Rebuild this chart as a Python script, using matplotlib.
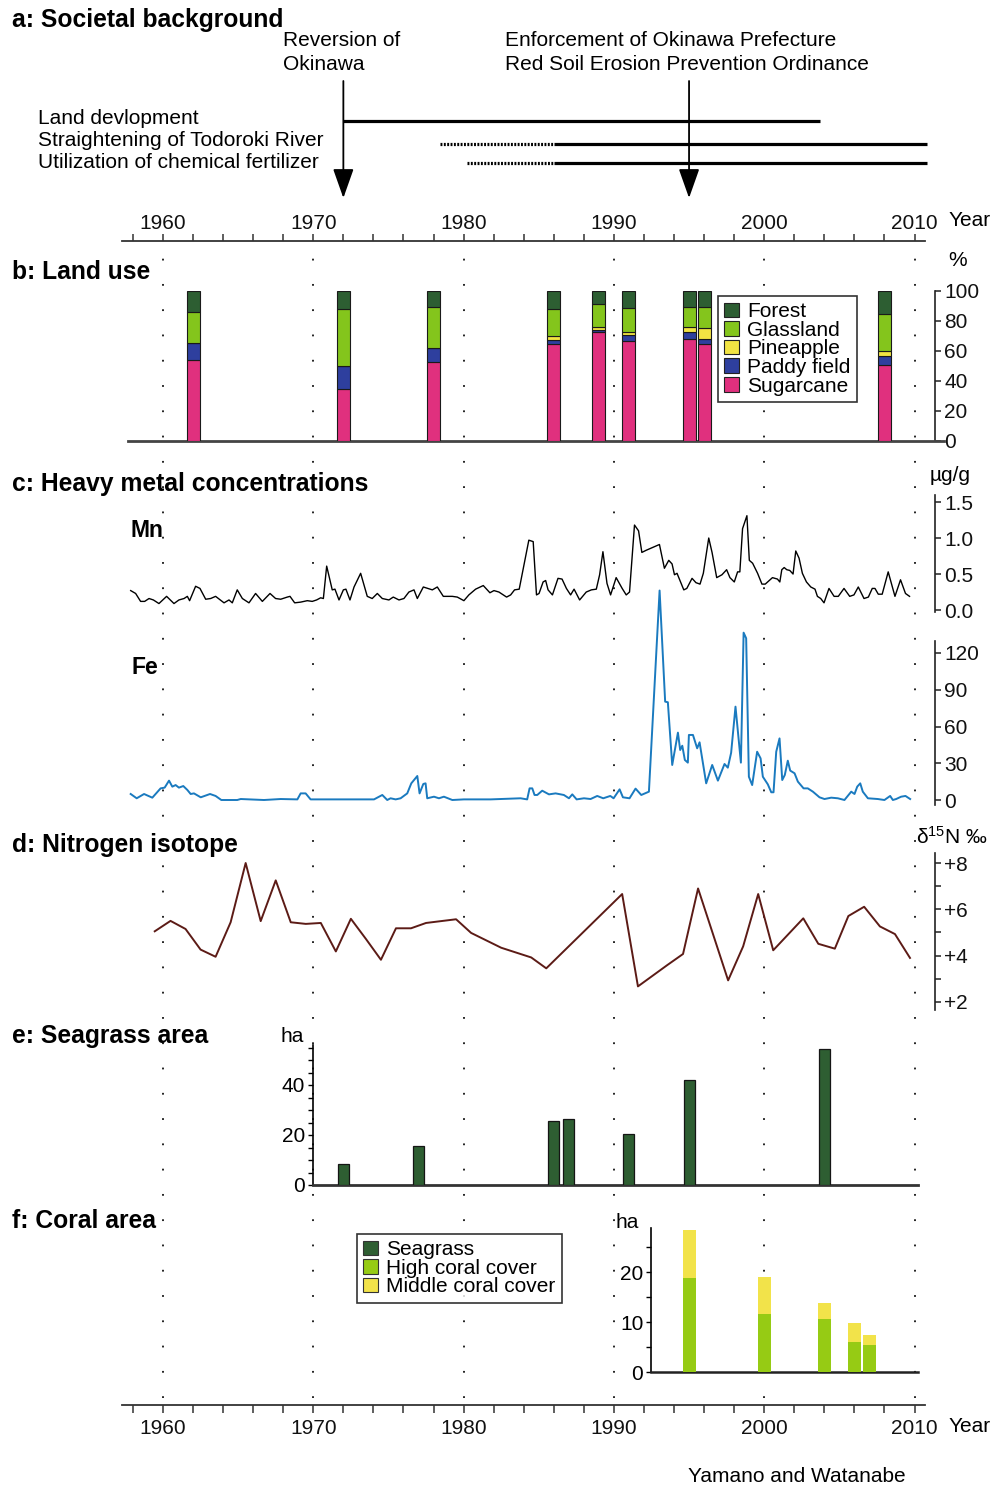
import numpy as np
import matplotlib
matplotlib.use('Agg')
import matplotlib.pyplot as plt
from matplotlib.patches import Patch
from matplotlib.ticker import FormatStrFormatter

plt.rcParams['font.family'] = ['Liberation Sans', 'DejaVu Sans']
plt.rcParams['mathtext.default'] = 'regular'

# ---------------- data ----------------
decades = [1960, 1970, 1980, 1990, 2000, 2010]

event_labels = [["Reversion of", "Okinawa"],
                ["Enforcement of Okinawa Prefecture", "Red Soil Erosion Prevention Ordinance"]]
event_years = [1972, 1995]

period_labels = ["Land devlopment", "Straightening of Todoroki River",
                 "Utilization of chemical fertilizer"]
period_dotted_start = [None, 1978.4, 1980.2]
period_solid_start = [1972, 1986, 1986]
period_end = [2003.7, 2010.8, 2010.8]

landuse_years = [1962, 1972, 1978, 1986, 1989, 1991, 1995, 1996, 2008]
landuse_cats = ["Forest", "Glassland", "Pineapple", "Paddy field", "Sugarcane"]
sugarcane = [54, 35, 52.5, 65, 72.5, 66.5, 68, 64.5, 51]
paddy = [11.5, 15, 9.5, 2.5, 1.5, 4, 5, 3.5, 6]
pineapple = [0, 0, 0, 2.5, 2, 2, 3, 7.5, 3]
glassland = [20.5, 38, 27.5, 18, 15.5, 16.5, 13.5, 14, 24.5]
forest = [14, 12, 10.5, 12, 8.5, 11, 10.5, 10.5, 15.5]

mn_years = [1957.85, 1958.18, 1958.51, 1958.78, 1959.07, 1959.36, 1959.73, 1960.24, 1960.73, 1961.06,
            1961.40, 1961.62, 1961.77, 1962.17, 1962.46, 1962.84, 1963.17, 1963.50, 1964.06, 1964.39,
            1964.61, 1964.94, 1965.28, 1965.72, 1966.16, 1966.61, 1967.12, 1967.49, 1967.83, 1968.27,
            1968.45, 1968.76, 1969.16, 1969.60, 1969.93, 1970.22, 1970.49, 1970.67, 1970.89, 1971.26,
            1971.44, 1971.71, 1972.00, 1972.17, 1972.44, 1972.71, 1973.15, 1973.41, 1973.59, 1973.92,
            1974.26, 1974.59, 1975.03, 1975.32, 1975.70, 1976.03, 1976.36, 1976.70, 1976.92, 1977.32,
            1977.76, 1977.92, 1978.25, 1978.65, 1979.25, 1979.58, 1980.02, 1980.35, 1980.80, 1981.31,
            1981.75, 1982.02, 1982.35, 1982.86, 1983.13, 1983.39, 1983.70, 1984.34, 1984.63, 1984.85,
            1985.02, 1985.29, 1985.46, 1985.62, 1985.91, 1986.28, 1986.55, 1986.84, 1987.12, 1987.35,
            1987.72, 1988.16, 1988.50, 1988.83, 1989.05, 1989.27, 1989.54, 1989.78, 1990.15, 1990.55,
            1990.82, 1991.04, 1991.37, 1991.64, 1991.86, 1992.15, 1992.59, 1993.03, 1993.36, 1993.65,
            1993.87, 1994.03, 1994.20, 1994.65, 1994.85, 1995.20, 1995.46, 1995.73, 1995.95, 1996.31,
            1996.53, 1996.84, 1997.19, 1997.50, 1997.72, 1998.01, 1998.23, 1998.38, 1998.56, 1998.85,
            1999.01, 1999.23, 1999.56, 1999.85, 2000.07, 2000.55, 2000.88, 2001.04, 2001.17, 2001.33,
            2001.50, 2001.70, 2001.92, 2002.10, 2002.32, 2002.54, 2002.81, 2003.10, 2003.38, 2003.54,
            2003.76, 2003.98, 2004.31, 2004.65, 2004.93, 2005.31, 2005.69, 2005.97, 2006.26, 2006.64,
            2006.93, 2007.19, 2007.37, 2007.59, 2007.85, 2008.25, 2008.70, 2009.07, 2009.40, 2009.67]
mn_values = [0.27, 0.23, 0.12, 0.12, 0.16, 0.14, 0.09, 0.19, 0.09, 0.14,
             0.16, 0.19, 0.13, 0.33, 0.30, 0.15, 0.16, 0.19, 0.10, 0.14,
             0.10, 0.28, 0.16, 0.10, 0.23, 0.12, 0.23, 0.16, 0.15, 0.18,
             0.19, 0.10, 0.11, 0.13, 0.12, 0.14, 0.17, 0.16, 0.61, 0.28,
             0.29, 0.14, 0.28, 0.29, 0.14, 0.32, 0.51, 0.32, 0.19, 0.16,
             0.23, 0.16, 0.14, 0.18, 0.14, 0.16, 0.25, 0.28, 0.16, 0.32,
             0.29, 0.28, 0.32, 0.19, 0.19, 0.18, 0.13, 0.21, 0.29, 0.34,
             0.24, 0.27, 0.25, 0.18, 0.21, 0.28, 0.29, 0.97, 0.95, 0.21,
             0.23, 0.39, 0.41, 0.28, 0.21, 0.44, 0.43, 0.30, 0.21, 0.29,
             0.14, 0.25, 0.28, 0.29, 0.49, 0.81, 0.37, 0.21, 0.45, 0.30,
             0.21, 0.25, 1.18, 1.10, 0.80, 0.83, 0.87, 0.91, 0.58, 0.69,
             0.64, 0.49, 0.51, 0.28, 0.30, 0.44, 0.38, 0.36, 0.51, 1.00,
             0.80, 0.45, 0.49, 0.56, 0.45, 0.39, 0.53, 0.53, 1.13, 1.31,
             0.69, 0.65, 0.51, 0.36, 0.36, 0.45, 0.43, 0.39, 0.56, 0.59,
             0.56, 0.55, 0.50, 0.82, 0.72, 0.51, 0.39, 0.32, 0.29, 0.19,
             0.16, 0.10, 0.30, 0.19, 0.19, 0.30, 0.19, 0.21, 0.32, 0.16,
             0.18, 0.30, 0.30, 0.22, 0.22, 0.53, 0.19, 0.42, 0.23, 0.19]

fe_years = [1957.85, 1958.25, 1958.74, 1959.29, 1959.84, 1960.11, 1960.40, 1960.62, 1960.84, 1961.06,
            1961.35, 1961.62, 1961.84, 1962.06, 1962.51, 1963.13, 1963.50, 1963.88, 1964.94, 1965.17,
            1966.72, 1967.83, 1968.94, 1969.16, 1969.49, 1969.82, 1970.71, 1971.82, 1974.04, 1974.59,
            1974.92, 1975.14, 1975.48, 1975.81, 1976.25, 1976.52, 1976.92, 1977.07, 1977.32, 1977.47,
            1977.58, 1978.03, 1978.36, 1978.69, 1979.25, 1980.02, 1981.80, 1983.79, 1984.23, 1984.39,
            1984.57, 1984.72, 1984.90, 1985.23, 1985.68, 1986.12, 1986.67, 1987.01, 1987.23, 1987.52,
            1988.01, 1988.45, 1988.89, 1989.29, 1989.76, 1989.98, 1990.38, 1990.60, 1991.04, 1991.44,
            1991.82, 1992.33, 1993.04, 1993.41, 1993.59, 1993.88, 1994.26, 1994.41, 1994.55, 1994.72,
            1994.92, 1994.99, 1995.26, 1995.54, 1995.70, 1996.14, 1996.54, 1996.92, 1997.36, 1997.58,
            1997.80, 1998.09, 1998.45, 1998.63, 1998.80, 1998.98, 1999.20, 1999.53, 1999.76, 1999.91,
            2000.24, 2000.47, 2000.62, 2000.80, 2001.02, 2001.20, 2001.37, 2001.57, 2001.73, 2002.02,
            2002.24, 2002.62, 2002.90, 2003.24, 2003.68, 2004.01, 2004.46, 2004.90, 2005.34, 2005.79,
            2006.01, 2006.19, 2006.39, 2006.56, 2006.90, 2007.56, 2008.00, 2008.38, 2008.56, 2008.78,
            2009.11, 2009.40, 2009.71]
fe_values = [4.9, 1.4, 4.9, 1.9, 9.5, 10.1, 15.8, 10.9, 12.2, 10.1,
             11.4, 8.2, 4.9, 5.4, 2.2, 4.9, 3.3, 0.0, 0.0, 0.8,
             0.0, 0.8, 0.5, 5.4, 5.4, 0.5, 0.5, 0.5, 0.5, 4.1,
             0.0, 1.4, 0.5, 1.4, 5.4, 13.6, 19.6, 5.4, 13.1, 13.6,
             1.4, 2.7, 1.4, 2.7, 0.0, 0.5, 0.5, 1.4, 0.5, 9.5,
             9.5, 4.1, 4.1, 7.6, 4.6, 5.4, 4.1, 1.4, 4.6, 0.5,
             1.4, 0.8, 3.3, 1.4, 3.3, 1.4, 8.7, 2.2, 1.4, 9.3,
             4.1, 6.8, 171.0, 80.3, 79.8, 28.6, 55.0, 40.8, 44.3, 32.7,
             30.5, 53.1, 53.1, 42.2, 47.1, 13.6, 28.6, 15.8, 29.4, 26.4,
             38.6, 76.2, 30.5, 136.6, 132.0, 19.0, 12.2, 39.4, 34.0, 19.0,
             12.8, 6.3, 6.3, 39.4, 50.3, 16.3, 20.4, 32.1, 24.0, 21.8,
             15.0, 9.5, 9.5, 6.8, 2.2, 0.8, 1.9, 1.4, 0.0, 6.8,
             4.9, 10.9, 13.6, 6.8, 1.4, 0.8, 0.0, 3.3, 0.0, 0.8,
             2.7, 3.3, 0.8]

n_years = [1959.45, 1960.5, 1961.5, 1962.5, 1963.5, 1964.5, 1965.5, 1966.5, 1967.5, 1968.5,
           1969.5, 1970.5, 1971.5, 1972.5, 1973.5, 1974.5, 1975.5, 1976.5, 1977.5, 1978.5,
           1979.5, 1980.5, 1982.5, 1984.5, 1985.5, 1990.55, 1991.6, 1993.55, 1994.6, 1995.6,
           1997.6, 1998.6, 1999.6, 2000.6, 2002.6, 2003.6, 2004.7, 2005.6, 2006.65, 2007.7,
           2008.7, 2009.7]
n_values = [5.05, 5.5, 5.15, 4.26, 3.95, 5.44, 8.0, 5.49, 7.25, 5.44,
            5.37, 5.41, 4.18, 5.59, 4.72, 3.82, 5.18, 5.18, 5.41, 5.49,
            5.57, 4.98, 4.34, 3.92, 3.45, 6.66, 2.67, 3.59, 4.07, 6.9,
            2.93, 4.4, 6.66, 4.23, 5.61, 4.51, 4.3, 5.71, 6.11, 5.26,
            4.93, 3.9]

seagrass_years = [1972, 1977, 1986, 1987, 1991, 1995, 2004]
seagrass_area = [8.5, 15.5, 25.5, 26.5, 20.5, 42, 54.5]

coral_years = [1995, 2000, 2004, 2006, 2007]
high_coral = [18.9, 11.6, 10.6, 6.0, 5.4]
middle_coral = [9.5, 7.5, 3.3, 3.8, 2.0]

# ---------------- style ----------------
C_FOREST = '#2d5e32'
C_GLASS = '#84c51c'
C_PINE = '#f2e443'
C_PADDY = '#2e3f9e'
C_SUGAR = '#e0307e'
C_SEAGRASS = '#2e5e32'
C_HIGH = '#96cb14'
C_MID = '#f2e34a'
C_FE = '#1a7abf'
C_N = '#5c1b16'
FS = 15
FS_T = 17.7

W, H = 997, 1487
fig = plt.figure(figsize=(W / 100, H / 100), dpi=100)

X1960 = 163.0
PXY = 15.03


def yr(px):
    return 1960 + (px - X1960) / PXY


XLIM = (yr(122), yr(935))


def pax(x0, y0, x1, y1, xl=None):
    ax = fig.add_axes([x0 / W, 1 - y1 / H, (x1 - x0) / W, (y1 - y0) / H])
    ax.patch.set_visible(False)
    ax.set_xlim(xl if xl is not None else XLIM)
    for s in ax.spines.values():
        s.set_visible(False)
    ax.set_xticks([])
    ax.set_yticks([])
    return ax


def ftext(x, y, s, **kw):
    kw.setdefault('fontsize', FS)
    kw.setdefault('va', 'center')
    kw.setdefault('ha', 'left')
    fig.text(x / W, 1 - y / H, s, **kw)


def right_axis(ax, lo, hi):
    ax.spines['right'].set_visible(True)
    ax.spines['right'].set_bounds(lo, hi)
    ax.spines['right'].set_linewidth(1.2)
    ax.spines['right'].set_color('#222222')
    ax.yaxis.tick_right()
    ax.tick_params(axis='y', which='both', direction='out', length=4.5, width=1.1,
                   labelsize=FS, pad=2, colors='#222222', labelcolor='#111111')


# ---------------- dotted decade lines ----------------
gax = pax(122, 252, 935, 1398)
gax.set_ylim(0, 1)
gax.vlines(decades, 0, 1, colors='#111111', linestyles=[(0, (1, 13))], lw=1.3)

# ---------------- panel a ----------------
aax = pax(122, 0, 935, 241)
aax.set_ylim(241, 0)
period_y = [121, 144, 163]
for ds, ss, e, y in zip(period_dotted_start, period_solid_start, period_end, period_y):
    aax.plot([ss, e], [y, y], color='black', lw=2.3, solid_capstyle='butt')
    if ds is not None:
        aax.plot([ds, ss], [y, y], color='black', lw=2.3, ls=(0, (0.6, 0.45)),
                 dash_capstyle='butt')
for ey in event_years:
    aax.annotate('', xy=(ey, 198), xytext=(ey, 81),
                 arrowprops=dict(arrowstyle='-|>,head_length=0.65,head_width=0.23',
                                 color='black', lw=1.3, mutation_scale=28,
                                 shrinkA=0, shrinkB=0))

ftext(12, 20, "a: Societal background", fontsize=FS_T, fontweight='bold')
for (l1, l2), x in zip(event_labels, [283, 505]):
    ftext(x, 40, l1)
    ftext(x, 65, l2)
for lab, y in zip(period_labels, [118, 141, 163]):
    ftext(38, y, lab)

# top axis
tax = pax(122, 241, 935, 246)
tax.spines['top'].set_visible(True)
tax.spines['top'].set_bounds(yr(122), yr(925))
tax.spines['top'].set_linewidth(1.3)
tax.spines['top'].set_color('#333333')
tax.xaxis.tick_top()
tax.set_xticks(decades)
tax.set_xticklabels([str(d) for d in decades])
tax.set_xticks([y for y in range(1958, 2011, 2) if y % 10], minor=True)
tax.tick_params(axis='x', which='both', direction='out', length=5, width=1.1,
                labelsize=FS, pad=1, colors='#333333', labelcolor='#111111')
ftext(949, 220, "Year")

# ---------------- panel b ----------------
bax = pax(122, 291, 935, 441)
bax.set_ylim(0, 100)
stack = [(sugarcane, C_SUGAR), (paddy, C_PADDY), (pineapple, C_PINE),
         (glassland, C_GLASS), (forest, C_FOREST)]
bottom = np.zeros(len(landuse_years))
for vals, col in stack:
    bax.bar(landuse_years, vals, bottom=bottom, width=0.86, color=col,
            edgecolor='#1a1a1a', linewidth=0.8, zorder=3)
    bottom = bottom + np.array(vals)
right_axis(bax, 0, 100)
bax.set_yticks([0, 20, 40, 60, 80, 100])
bax.spines['bottom'].set_visible(True)
bax.spines['bottom'].set_bounds(yr(128), yr(944))
bax.spines['bottom'].set_linewidth(2.0)
bax.spines['bottom'].set_color('#444444')
ftext(12, 272, "b: Land use", fontsize=FS_T, fontweight='bold')
ftext(958, 260, "%", ha='center')

colors_b = [C_FOREST, C_GLASS, C_PINE, C_PADDY, C_SUGAR]
hb = [Patch(facecolor=c, edgecolor='#222222', lw=0.8) for c in colors_b]
leg = fig.legend(hb, landuse_cats, loc='upper left', bbox_to_anchor=(718 / W, 1 - 296 / H),
                 frameon=True, fancybox=False, edgecolor='black', fontsize=FS,
                 handlelength=0.7, handleheight=0.7, handletextpad=0.4,
                 labelspacing=-0.02, borderpad=0.3, borderaxespad=0)
leg.get_frame().set_linewidth(1.2)

# ---------------- panel c ----------------
ftext(12, 484, "c: Heavy metal concentrations", fontsize=FS_T, fontweight='bold')
ftext(950, 475, "µg/g", ha='center')

max_ = pax(122, 494.8, 935, 612.2)
max_.set_ylim(-0.03, 1.6)
max_.plot(mn_years, mn_values, color='black', lw=1.0, zorder=3)
right_axis(max_, -0.03, 1.6)
max_.set_yticks([0, 0.5, 1.0, 1.5])
max_.yaxis.set_major_formatter(FormatStrFormatter('%.1f'))
ftext(130, 530, "Mn", fontsize=16.5, fontweight='bold')

fax = pax(122, 640.75, 935, 804.9)
fax.set_ylim(-4, 130)
fax.plot(fe_years, fe_values, color=C_FE, lw=1.4, clip_on=False, zorder=3)
right_axis(fax, -4, 130)
fax.set_yticks([0, 30, 60, 90, 120])
ftext(131, 668, "Fe", fontsize=16.5, fontweight='bold')

# ---------------- panel d ----------------
ftext(12, 845, "d: Nitrogen isotope", fontsize=FS_T, fontweight='bold')
ftext(952, 837, r"δ$^{15}$N ‰", ha='center')
dax = pax(122, 852.6, 935, 1010)
dax.set_ylim(1.65, 8.45)
dax.plot(n_years, n_values, color=C_N, lw=1.4, zorder=3)
right_axis(dax, 1.65, 8.45)
dax.set_yticks([2, 4, 6, 8])
dax.set_yticklabels(['+2', '+4', '+6', '+8'])
dax.set_yticks([3, 5, 7], minor=True)

# ---------------- panel e ----------------
ftext(12, 1036, "e: Seagrass area", fontsize=FS_T, fontweight='bold')
ftext(281, 1036, "ha")
eax = pax(313, 1045, 918, 1185, xl=(yr(313), yr(918)))
eax.set_ylim(0, 56)
eax.bar(seagrass_years, seagrass_area, width=0.73, color=C_SEAGRASS,
        edgecolor='#151515', linewidth=0.9, zorder=3)
eax.spines['left'].set_visible(True)
eax.spines['left'].set_linewidth(1.2)
eax.spines['bottom'].set_visible(True)
eax.spines['bottom'].set_linewidth(2.0)
eax.spines['bottom'].set_color('#333333')
eax.set_yticks([0, 20, 40])
eax.set_yticks([5, 10, 15, 25, 30, 35, 45, 50, 55], minor=True)
eax.tick_params(axis='y', which='both', direction='out', length=3.5, width=1.0,
                labelsize=FS, pad=2)

# ---------------- panel f ----------------
ftext(12, 1221, "f: Coral area", fontsize=FS_T, fontweight='bold')
ftext(615, 1222, "ha")
cax = pax(651, 1228, 918, 1372, xl=(yr(651), yr(918)))
cax.set_ylim(0, 28.8)
cax.bar(coral_years, high_coral, width=0.87, color=C_HIGH, lw=0, zorder=3)
cax.bar(coral_years, middle_coral, bottom=high_coral, width=0.87, color=C_MID, lw=0, zorder=3)
cax.spines['left'].set_visible(True)
cax.spines['left'].set_linewidth(1.2)
cax.spines['bottom'].set_visible(True)
cax.spines['bottom'].set_linewidth(1.8)
cax.spines['bottom'].set_color('#222222')
cax.set_yticks([0, 10, 20])
cax.set_yticks([5, 15, 25], minor=True)
cax.tick_params(axis='y', which='both', direction='out', length=3.5, width=1.0,
                labelsize=FS, pad=2)

hf = [Patch(facecolor=c, edgecolor='#333333', lw=0.8) for c in [C_SEAGRASS, C_HIGH, C_MID]]
leg2 = fig.legend(hf, ["Seagrass", "High coral cover", "Middle coral cover"],
                  loc='upper left', bbox_to_anchor=(357 / W, 1 - 1234 / H),
                  frameon=True, fancybox=False, edgecolor='black', fontsize=FS,
                  handlelength=0.7, handleheight=0.7, handletextpad=0.4,
                  labelspacing=-0.02, borderpad=0.3, borderaxespad=0)
leg2.get_frame().set_linewidth(1.2)

# bottom axis
xax = pax(122, 1400, 935, 1405)
xax.spines['bottom'].set_visible(True)
xax.spines['bottom'].set_bounds(yr(122), yr(925))
xax.spines['bottom'].set_linewidth(1.3)
xax.spines['bottom'].set_color('#333333')
xax.set_xticks(decades)
xax.set_xticklabels([str(d) for d in decades])
xax.set_xticks([y for y in range(1958, 2011, 2) if y % 10], minor=True)
xax.tick_params(axis='x', which='both', direction='out', length=6, width=1.1,
                labelsize=FS, pad=4, colors='#333333', labelcolor='#111111')
ftext(949, 1426, "Year")

ftext(797, 1477, "Yamano and Watanabe", ha='center')

fig.savefig('out.png', dpi=100)
